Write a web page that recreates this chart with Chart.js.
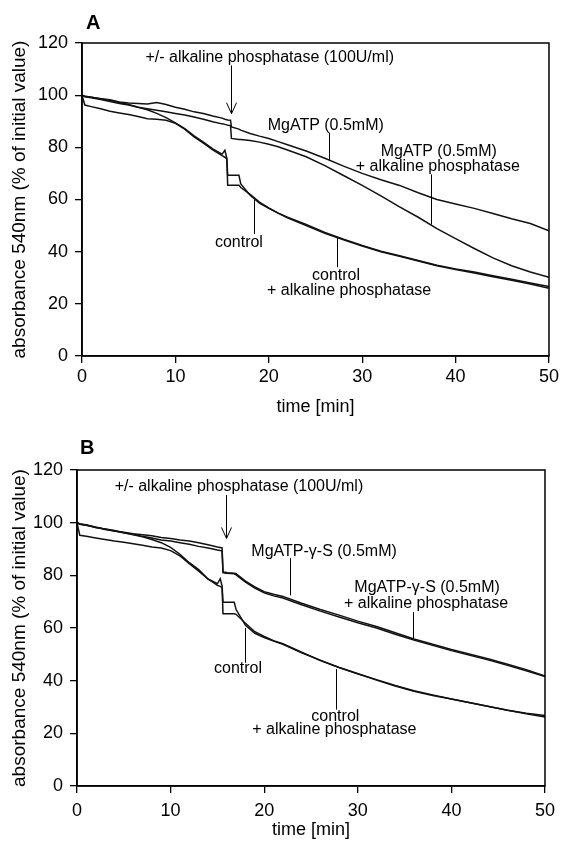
<!DOCTYPE html>
<html>
<head>
<meta charset="utf-8">
<title>Absorbance 540nm vs time</title>
<script src="https://cdn.jsdelivr.net/npm/chart.js@4.4.1/dist/chart.umd.min.js"></script>
<style>
  body { margin: 0; background: #fff; }
  .panel { position: absolute; left: 0; width: 562px; }
  #panelA { top: 0; height: 420px; }
  #panelB { top: 420px; height: 421px; }
</style>
</head>
<body>
<div class="panel" id="panelA"><canvas id="chartA"></canvas></div>
<div class="panel" id="panelB"><canvas id="chartB"></canvas></div>
<script>
// time points (min), shared by both panels
const timeMin = [0, 0.3, 1, 2, 3, 4, 5, 6, 7, 8, 9, 10, 11, 12, 13, 14, 15, 15.3, 15.5, 15.6, 15.9, 16,
  16.8, 17, 18, 19, 20, 21, 22, 24, 26, 28, 30, 32, 34, 36, 38, 40, 42, 44, 46, 48, 50];

// panel A: absorbance (% of initial value)
const mgatpA = [100, 99.6, 99.2, 98.6, 98.2, 97.4, 97.0, 96.8, 96.6, 97.2, 96.4, 95.4, 94.6, 93.6, 93.0, 92.0, 91.2,
  90.8, 90.6, 90.5, 90.4, 87.8, 87.0, 86.6, 85.3, 84.3, 83.4, 82.2, 81.0, 78.6, 75.8, 72.8, 70.0, 67.6, 65.4, 62.6,
  60.0, 58.3, 56.6, 54.6, 52.6, 50.8, 48.0];
const mgatpPhosA = [100, 99.4, 99.0, 98.3, 97.6, 96.8, 96.2, 95.4, 94.8, 94.2, 93.6, 93.0, 92.4, 91.6, 90.8, 89.8, 89.0,
  88.8, 88.6, 88.5, 88.4, 83.4, 83.0, 83.0, 82.6, 82.0, 81.2, 80.2, 79.0, 76.4, 73.0, 69.2, 65.4, 61.4, 57.2, 53.2,
  48.8, 45.0, 41.2, 37.6, 34.6, 32.2, 30.2];
const controlA = [100, 99.6, 99.2, 98.6, 98.0, 97.2, 96.4, 95.4, 94.4, 93.0, 91.4, 89.4, 87.2, 84.4, 82.0, 79.4, 77.4,
  78.9, 76.0, 69.3, 69.3, 69.3, 69.3, 66.0, 61.6, 58.6, 56.6, 54.8, 53.2, 50.4, 47.4, 44.8, 42.4, 40.2, 38.4, 36.6,
  34.8, 33.4, 32.2, 30.8, 29.4, 28.0, 26.6];
const controlPhosA = [100, 96.2, 95.6, 94.8, 93.8, 93.2, 92.6, 91.8, 91.0, 90.8, 90.4, 89.2, 87.0, 84.0, 81.6, 79.0, 76.8,
  76.2, 75.6, 65.5, 65.5, 65.5, 65.5, 64.6, 62.0, 59.0, 56.8, 54.8, 53.0, 50.0, 47.0, 44.6, 42.2, 40.0, 38.2, 36.4,
  34.6, 33.2, 31.8, 30.4, 29.0, 27.6, 26.0];

// panel B
const mgatpgsB = [100, 99.4, 99.2, 98.2, 97.6, 96.8, 96.4, 95.8, 95.4, 95.0, 94.4, 94.0, 93.4, 93.0, 92.4, 91.6, 90.8,
  90.6, 90.4, 81.3, 81.2, 81.0, 80.8, 80.6, 77.8, 75.6, 73.8, 72.8, 72.0, 69.4, 67.0, 64.9, 62.6, 60.6, 58.2, 55.8,
  53.8, 51.8, 50.0, 48.2, 46.2, 44.2, 41.8];
const mgatpgsPhosB = [100, 99.6, 99.0, 98.4, 97.4, 96.8, 96.2, 95.6, 94.8, 94.2, 93.4, 93.0, 92.4, 91.8, 91.0, 90.4, 89.6,
  89.4, 89.3, 81.0, 80.8, 80.8, 80.6, 80.2, 77.4, 75.2, 73.4, 72.2, 71.4, 68.8, 66.4, 64.2, 62.0, 60.0, 57.6, 55.4,
  53.4, 51.4, 49.6, 47.8, 45.8, 43.8, 41.6];
const controlB = [100, 99.4, 99.0, 98.2, 97.6, 97.0, 96.2, 95.4, 94.6, 93.6, 92.4, 90.6, 88.0, 84.8, 82.2, 78.6, 76.8,
  78.7, 76.0, 69.8, 69.8, 69.8, 69.8, 67.0, 61.0, 58.0, 56.4, 55.0, 53.8, 50.6, 47.8, 45.0, 42.6, 40.2, 38.0, 36.0,
  34.4, 33.0, 31.6, 30.2, 28.8, 27.6, 26.8];
const controlPhosB = [100, 95.2, 94.8, 94.2, 93.6, 93.0, 92.6, 92.0, 91.4, 90.8, 90.4, 89.4, 87.4, 84.4, 81.6, 78.6, 76.2,
  75.8, 75.4, 65.4, 65.4, 65.4, 65.4, 65.2, 61.8, 58.6, 56.8, 55.2, 54.0, 50.8, 47.6, 45.0, 42.6, 40.4, 38.2, 36.2,
  34.6, 33.0, 31.6, 30.2, 28.8, 27.4, 26.2];

// axis ticks
const xTicks = [0, 10, 20, 30, 40, 50];
const yTicks = [0, 20, 40, 60, 80, 100, 120];

const FONT = '"Liberation Sans", Arial, Helvetica, sans-serif';
Chart.defaults.font.family = FONT;
Chart.defaults.color = '#000';

// labels, leader lines and the addition arrow, placed in data units
const annotate = {
  id: 'annotate',
  afterDatasetsDraw(chart, args, o) {
    const { ctx, chartArea: a, scales: { x, y } } = chart;
    ctx.save();
    ctx.strokeStyle = '#000';
    ctx.lineWidth = 1.5;
    ctx.strokeRect(a.left, a.top, a.right - a.left, a.bottom - a.top);

    ctx.lineWidth = 1;
    o.leaders.forEach(([t, v1, v2]) => {
      const px = Math.round(x.getPixelForValue(t)) + 0.5;
      ctx.beginPath();
      ctx.moveTo(px, y.getPixelForValue(v1));
      ctx.lineTo(px, y.getPixelForValue(v2));
      ctx.stroke();
    });

    // arrow
    const ax = Math.round(x.getPixelForValue(o.arrow.t)) + 0.5;
    const tip = y.getPixelForValue(o.arrow.to);
    ctx.beginPath();
    ctx.moveTo(ax, y.getPixelForValue(o.arrow.from));
    ctx.lineTo(ax, tip);
    ctx.moveTo(ax - 5, tip - 11);
    ctx.lineTo(ax, tip);
    ctx.lineTo(ax + 5, tip - 11);
    ctx.stroke();

    ctx.fillStyle = '#000';
    ctx.font = '16px ' + FONT;
    ctx.textAlign = 'center';
    ctx.textBaseline = 'middle';
    o.notes.forEach(n => ctx.fillText(n.text, x.getPixelForValue(n.t), y.getPixelForValue(n.v)));

    ctx.font = 'bold 20px ' + FONT;
    ctx.textAlign = 'left';
    ctx.textBaseline = 'alphabetic';
    ctx.fillText(o.letter, o.letterX, o.letterY);
    ctx.restore();
  }
};

function makeChart(id, series, panel) {
  return new Chart(document.getElementById(id), {
    type: 'line',
    data: {
      datasets: series.map(vals => ({
        data: timeMin.map((t, i) => ({ x: t, y: vals[i] })),
        borderColor: '#111',
        borderWidth: 1.5,
        pointRadius: 0,
        tension: 0,
        fill: false
      }))
    },
    options: {
      responsive: true,
      maintainAspectRatio: false,
      animation: false,
      layout: { padding: panel.padding },
      plugins: {
        legend: { display: false },
        tooltip: { enabled: false },
        annotate: panel
      },
      scales: {
        x: {
          type: 'linear',
          min: xTicks[0],
          max: xTicks[xTicks.length - 1],
          afterBuildTicks: s => { s.ticks = xTicks.map(v => ({ value: v })); },
          afterFit: s => { s.height = panel.xHeight; },
          ticks: { font: { size: 18 }, color: '#000', padding: panel.xTickPad, maxRotation: 0 },
          grid: { drawOnChartArea: false, tickLength: 7, color: '#000', lineWidth: 1.3 },
          border: { color: '#000', width: 1.6 },
          title: { display: true, text: 'time [min]', font: { size: 18 }, color: '#000', padding: { top: 0, bottom: panel.xTitlePad } }
        },
        y: {
          min: yTicks[0],
          max: yTicks[yTicks.length - 1],
          afterBuildTicks: s => { s.ticks = yTicks.map(v => ({ value: v })); },
          afterFit: s => { s.width = panel.yWidth; },
          ticks: { font: { size: 18 }, color: '#000', padding: 7 },
          grid: { drawOnChartArea: false, tickLength: 7, color: '#000', lineWidth: 1.3 },
          border: { color: '#000', width: 1.6 },
          title: { display: true, text: 'absorbance 540nm (% of initial value)', font: { size: 19 }, color: '#000', padding: { top: 8, bottom: 0 } }
        }
      }
    },
    plugins: [annotate]
  });
}

makeChart('chartA', [mgatpA, mgatpPhosA, controlA, controlPhosA], {
  padding: { left: 0, top: 43, right: 12, bottom: 0 },
  yWidth: 82, xHeight: 64, xTickPad: 3, xTitlePad: 2,
  letter: 'A', letterX: 86, letterY: 29,
  arrow: { t: 16.0, from: 111.4, to: 92.9 },
  leaders: [[26.4, 85.6, 75.2], [37.4, 69.6, 50.4], [18.4, 59.8, 46.8], [27.3, 45.4, 34.0]],
  notes: [
    { text: '+/- alkaline phosphatase (100U/ml)', t: 20.1, v: 114.4 },
    { text: 'MgATP (0.5mM)', t: 26.1, v: 88.5 },
    { text: 'MgATP (0.5mM)', t: 38.2, v: 78.3 },
    { text: '+ alkaline phosphatase', t: 38.1, v: 72.5 },
    { text: 'control', t: 16.8, v: 43.5 },
    { text: 'control', t: 27.2, v: 30.7 },
    { text: '+ alkaline phosphatase', t: 28.6, v: 24.9 }
  ]
});

makeChart('chartB', [mgatpgsB, mgatpgsPhosB, controlB, controlPhosB], {
  padding: { left: 0, top: 50, right: 17, bottom: 0 },
  yWidth: 77, xHeight: 55, xTickPad: 7, xTitlePad: 0,
  letter: 'B', letterX: 80, letterY: 34,
  arrow: { t: 15.9, from: 110.5, to: 94.0 },
  leaders: [[22.8, 86.5, 72.4], [35.9, 66.0, 55.9], [18.0, 60.0, 46.8], [27.7, 44.4, 29.0]],
  notes: [
    { text: '+/- alkaline phosphatase (100U/ml)', t: 17.3, v: 113.6 },
    { text: 'MgATP-γ-S (0.5mM)', t: 26.4, v: 89.0 },
    { text: 'MgATP-γ-S (0.5mM)', t: 37.4, v: 75.4 },
    { text: '+ alkaline phosphatase', t: 37.3, v: 69.3 },
    { text: 'control', t: 17.2, v: 44.5 },
    { text: 'control', t: 27.6, v: 26.3 },
    { text: '+ alkaline phosphatase', t: 27.5, v: 21.3 }
  ]
});
</script>
</body>
</html>
